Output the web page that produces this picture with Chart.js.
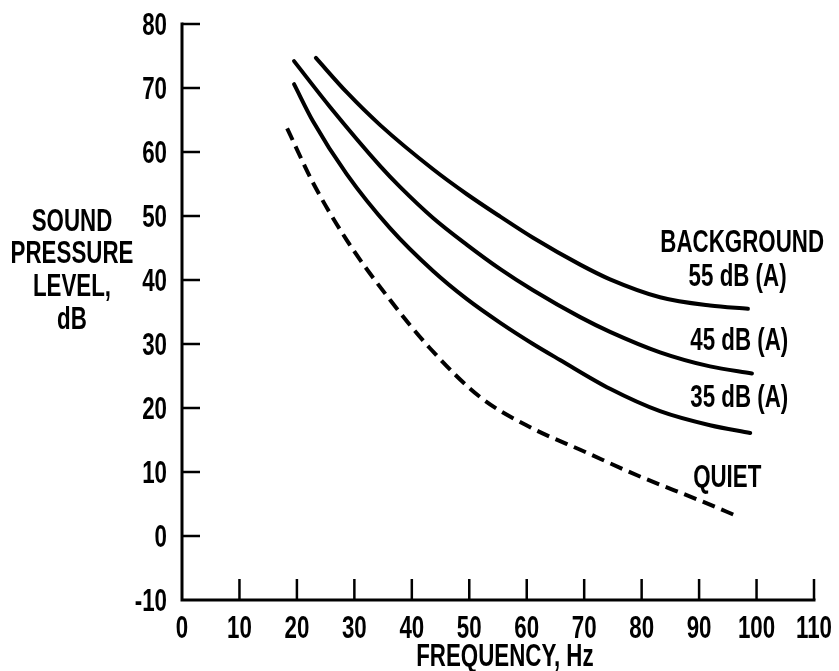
<!DOCTYPE html>
<html>
<head>
<meta charset="utf-8">
<script src="https://cdn.jsdelivr.net/npm/chart.js@4"></script>
<style>
html,body{margin:0;padding:0;background:#fff;}
#c{display:block;}
</style>
</head>
<body>
<canvas id="c" width="839" height="671"></canvas>
<script>
// ---- data ----
const freq55 = [23.3, 28.7, 34.5, 43.7, 49.6, 55.4, 61.1, 69.3, 74.5, 83.2, 91.9, 98.5];
const spl55  = [74.7, 69.3, 64.2, 57.3, 53.4, 49.9, 46.6, 42.4, 40.1, 37.3, 36.0, 35.5];
const freq45 = [19.5, 25.8, 34.5, 37.9, 43.7, 49.6, 55.4, 61.1, 69.3, 74.5, 83.2, 91.9, 99.2];
const spl45  = [74.2, 67.0, 57.8, 54.6, 49.7, 45.5, 41.7, 38.4, 34.2, 31.9, 28.7, 26.5, 25.4];
const freq35 = [19.5, 22.8, 28.7, 36.2, 43.7, 49.6, 55.4, 61.1, 65.8, 74.5, 83.2, 91.9, 98.9];
const spl35  = [70.6, 64.8, 56.5, 48.1, 41.4, 37.0, 33.3, 30.0, 27.5, 23.0, 19.5, 17.3, 16.1];
const freqQuiet = [18.3, 22.8, 28.7, 36.2, 43.2, 51.9, 60.6, 70, 79.7, 90, 96.9];
const splQuiet  = [63.7, 55.2, 46.2, 36.9, 29.3, 21.7, 17.0, 13.2, 9.3, 5.6, 3.0];

const xTicks = [0, 10, 20, 30, 40, 50, 60, 70, 80, 90, 100, 110];
const yTicks = [-10, 0, 10, 20, 30, 40, 50, 60, 70, 80];
const yTitleLines = ["SOUND", "PRESSURE", "LEVEL,", "dB"];
const xTitle = "FREQUENCY, Hz";
const curveLabels = [
  {text: "BACKGROUND", x: 97.5, y: 45.9},
  {text: "55 dB (A)", x: 96.7, y: 40.6},
  {text: "45 dB (A)", x: 97.0, y: 30.5},
  {text: "35 dB (A)", x: 97.0, y: 21.6},
  {text: "QUIET", x: 94.9, y: 9.2}
];

function pts(xs, ys){ return xs.map((x,i)=>({x:x, y:ys[i]})); }

const FONT = "bold 31px 'Liberation Sans', 'DejaVu Sans', sans-serif";
const SX = 0.72;

function txt(ctx, s, x, y, align){
  ctx.save();
  ctx.font = FONT;
  ctx.fillStyle = "#000";
  ctx.textBaseline = "middle";
  const w = ctx.measureText(s).width * SX;
  let left = x;
  if (align === "center") left = x - w/2;
  else if (align === "right") left = x - w;
  ctx.translate(left, y);
  ctx.scale(SX, 1);
  ctx.textAlign = "left";
  ctx.fillText(s, 0, 0);
  ctx.restore();
}

const axesPlugin = {
  id: "paperAxes",
  afterDatasetsDraw(chart){
    const ctx = chart.ctx;
    const xs = chart.scales.x, ys = chart.scales.y;
    const x0 = xs.getPixelForValue(xTicks[0]);
    const x1 = xs.getPixelForValue(xTicks[xTicks.length-1]);
    const y0 = ys.getPixelForValue(yTicks[0]);
    const y1 = ys.getPixelForValue(yTicks[yTicks.length-1]);
    ctx.save();
    ctx.strokeStyle = "#000";
    ctx.lineCap = "square";
    ctx.lineWidth = 3;
    ctx.beginPath();
    ctx.moveTo(x0, y1); ctx.lineTo(x0, y0); ctx.lineTo(x1, y0);
    ctx.stroke();
    ctx.lineWidth = 2.5;
    ctx.lineCap = "butt";
    yTicks.forEach(v=>{
      if (v === yTicks[0]) return;
      const py = ys.getPixelForValue(v);
      ctx.beginPath(); ctx.moveTo(x0, py); ctx.lineTo(x0 + 18, py); ctx.stroke();
    });
    xTicks.forEach(v=>{
      if (v === xTicks[0]) return;
      const px = xs.getPixelForValue(v);
      ctx.beginPath(); ctx.moveTo(px, y0); ctx.lineTo(px, y0 - 21); ctx.stroke();
    });
    ctx.restore();
    yTicks.forEach(v=>{
      txt(ctx, String(v), x0 - 15, ys.getPixelForValue(v) + 2, "right");
    });
    xTicks.forEach(v=>{
      txt(ctx, String(v), xs.getPixelForValue(v), y0 + 29, "center");
    });
    // y title
    yTitleLines.forEach((s,i)=>{
      txt(ctx, s, 72, 222 + i * 32.7, "center");
    });
    txt(ctx, xTitle, xs.getPixelForValue(56.2), y0 + 57, "center");
    curveLabels.forEach(l=>{
      txt(ctx, l.text, xs.getPixelForValue(l.x), ys.getPixelForValue(l.y) + 1, "center");
    });
  }
};

const common = {borderColor:"#000", backgroundColor:"#000", borderWidth:4, pointRadius:0,
  cubicInterpolationMode:"monotone", fill:false, borderCapStyle:"round", borderJoinStyle:"round"};

new Chart(document.getElementById("c"), {
  type: "line",
  data: {
    datasets: [
      Object.assign({label:"55 dB (A)", data: pts(freq55, spl55)}, common),
      Object.assign({label:"45 dB (A)", data: pts(freq45, spl45)}, common),
      Object.assign({label:"35 dB (A)", data: pts(freq35, spl35)}, common),
      Object.assign({}, common, {label:"QUIET", data: pts(freqQuiet, splQuiet), borderDash:[13,7], borderCapStyle:"butt"})
    ]
  },
  options: {
    responsive: false,
    animation: false,
    layout: {padding: {left: 182, right: 25, top: 24, bottom: 71}},
    plugins: {legend: {display: false}, tooltip: {enabled: false}},
    scales: {
      x: {type: "linear", min: 0, max: 110, display: false},
      y: {type: "linear", min: -10, max: 80, display: false}
    }
  },
  plugins: [axesPlugin]
});
</script>
</body>
</html>
